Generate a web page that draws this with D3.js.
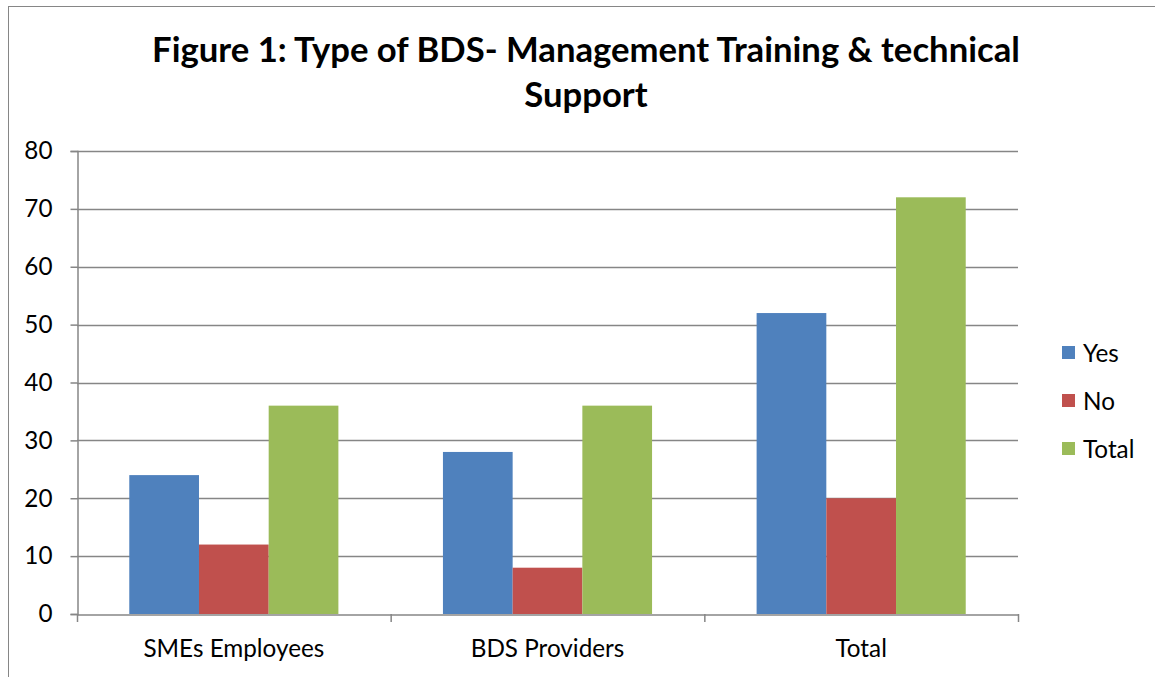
<!DOCTYPE html>
<html><head><meta charset="utf-8">
<script src="https://cdn.jsdelivr.net/npm/d3@7"></script>
<style>body{margin:0;background:#fff}svg{display:block}</style>
</head><body>
<script>
const categories = ["SMEs Employees", "BDS Providers", "Total"];
const seriesNames = ["Yes", "No", "Total"];
const yesValues = [24, 28, 52];
const noValues = [12, 8, 20];
const totalValues = [36, 36, 72];
const yTicks = [0, 10, 20, 30, 40, 50, 60, 70, 80];
const titleLines = ["Figure 1: Type of BDS- Management Training & technical", "Support"];
const colors = ["#4F81BD", "#C0504D", "#9BBB59"];

const W = 1155, H = 677;
const FONT = "Lato, Liberation Sans, Arial, sans-serif";
const svg = d3.select("body").append("svg").attr("width", W).attr("height", H);

svg.append("rect").attr("x", 8.5).attr("y", 6.5).attr("width", 1160).attr("height", 700)
  .attr("fill", "#fff").attr("stroke", "#868686").attr("stroke-width", 1);

function fitSize(text, weight, targetW) {
  const t = svg.append("text").attr("font-family", FONT).attr("font-weight", weight)
    .attr("font-size", 100).text(text);
  const w = t.node().getComputedTextLength(); t.remove();
  return 100 * targetW / w;
}
const titleSize = fitSize(titleLines[0], "bold", 868);
const labelSize = fitSize("SMEs Employees", "normal", 181);

const m = {l: 77, r: 1018, t: 151, b: 614};
const y = d3.scaleLinear().domain([0, 80]).range([m.b, m.t]);
const x0 = d3.scaleBand().domain(categories).range([m.l, m.r]).paddingInner(0).paddingOuter(0);
const bw = x0.bandwidth() / 4.5;
const x1 = d3.scaleBand().domain(seriesNames).range([0.75 * bw, 3.75 * bw]).padding(0);

titleLines.forEach((s, i) => {
  svg.append("text").attr("x", 586).attr("y", 62 + i * 45).attr("text-anchor", "middle")
    .attr("font-family", FONT).attr("font-weight", "bold").attr("font-size", titleSize)
    .attr("fill", "#000").text(s);
});

svg.append("g").selectAll("line").data(yTicks.filter(d => d > 0)).join("line")
  .attr("x1", m.l).attr("x2", m.r).attr("y1", d => Math.round(y(d)) + 0.5).attr("y2", d => Math.round(y(d)) + 0.5)
  .attr("stroke", "#868686").attr("stroke-width", 1.5);

const data = categories.map((c, i) => ({c, vals: [yesValues[i], noValues[i], totalValues[i]]}));
const g = svg.append("g").selectAll("g").data(data).join("g")
  .attr("transform", d => `translate(${x0(d.c)},0)`);
g.selectAll("rect").data(d => d.vals.map((v, j) => ({v, s: seriesNames[j], j}))).join("rect")
  .attr("x", d => x1(d.s)).attr("width", x1.bandwidth())
  .attr("y", d => y(d.v)).attr("height", d => y(0) - y(d.v))
  .attr("fill", d => colors[d.j]);

const yAxis = svg.append("g").attr("transform", `translate(${m.l + 0.5},0)`)
  .call(d3.axisLeft(y).tickValues(yTicks).tickSize(7).tickPadding(18));
yAxis.select(".domain").attr("stroke", "#868686").attr("stroke-width", 1.5);
yAxis.selectAll(".tick line").attr("stroke", "#868686").attr("stroke-width", 1.5);
yAxis.selectAll(".tick text").attr("font-family", FONT).attr("font-size", labelSize).attr("fill", "#000");

const xAxis = svg.append("g").attr("transform", `translate(0,${m.b + 0.5})`)
  .call(d3.axisBottom(x0).tickSize(0).tickPadding(25));
xAxis.select(".domain").attr("stroke", "#868686").attr("stroke-width", 1.5);
xAxis.selectAll(".tick text").attr("font-family", FONT).attr("font-size", labelSize).attr("fill", "#000");
const boundaries = [m.l, ...categories.map(c => x0(c) + x0.bandwidth())];
svg.append("g").selectAll("line").data(boundaries).join("line")
  .attr("x1", d => d + 0.5).attr("x2", d => d + 0.5).attr("y1", m.b).attr("y2", m.b + 8)
  .attr("stroke", "#868686").attr("stroke-width", 1.5);

const lg = svg.append("g").selectAll("g").data(seriesNames).join("g")
  .attr("transform", (d, i) => `translate(1062,${346 + i * 48})`);
lg.append("rect").attr("width", 13).attr("height", 13).attr("fill", (d, i) => colors[i]);
lg.append("text").attr("x", 21).attr("y", 7).attr("dy", "0.35em")
  .attr("font-family", FONT).attr("font-size", labelSize).attr("fill", "#000").text(d => d);
</script>
</body></html>
